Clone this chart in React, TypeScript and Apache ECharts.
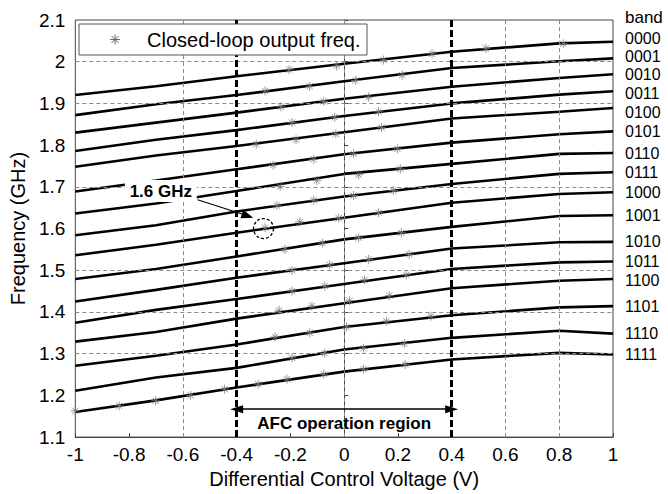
import React, { useEffect, useRef } from "react";
import * as echarts from "echarts";

// Differential control voltage sample points (V)
const xVoltage = [-1, -0.7, -0.4, 0, 0.4, 0.8, 1];

// Band codes (top to bottom)
const bandNames = [
  "0000", "0001", "0010", "0011", "0100", "0101", "0110", "0111",
  "1000", "1001", "1010", "1011", "1100", "1101", "1110", "1111",
];

// Open-loop VCO frequency (GHz) of each band at xVoltage
const band0000 = [1.920, 1.941, 1.965, 1.995, 2.024, 2.044, 2.048];
const band0001 = [1.872, 1.898, 1.920, 1.953, 1.985, 2.001, 2.008];
const band0010 = [1.830, 1.854, 1.878, 1.911, 1.940, 1.961, 1.970];
const band0011 = [1.786, 1.813, 1.836, 1.870, 1.900, 1.921, 1.929];
const band0100 = [1.748, 1.775, 1.798, 1.831, 1.864, 1.880, 1.889];
const band0101 = [1.689, 1.715, 1.742, 1.778, 1.806, 1.826, 1.833];
const band0110 = [1.636, 1.660, 1.690, 1.731, 1.755, 1.779, 1.781];
const band0111 = [1.584, 1.608, 1.641, 1.677, 1.707, 1.731, 1.735];
const band1000 = [1.536, 1.561, 1.590, 1.626, 1.662, 1.683, 1.687];
const band1001 = [1.479, 1.503, 1.533, 1.574, 1.604, 1.630, 1.632];
const band1010 = [1.425, 1.453, 1.482, 1.517, 1.552, 1.567, 1.568];
const band1011 = [1.374, 1.405, 1.431, 1.467, 1.503, 1.519, 1.521];
const band1100 = [1.329, 1.352, 1.384, 1.421, 1.457, 1.475, 1.479];
const band1101 = [1.271, 1.295, 1.322, 1.364, 1.392, 1.411, 1.414];
const band1110 = [1.211, 1.243, 1.266, 1.310, 1.338, 1.355, 1.348];
const band1111 = [1.160, 1.188, 1.219, 1.257, 1.286, 1.302, 1.298];

const bandCurves = [
  band0000, band0001, band0010, band0011, band0100, band0101, band0110, band0111,
  band1000, band1001, band1010, band1011, band1100, band1101, band1110, band1111,
];

// Closed-loop output frequency points [V, GHz]
const closedLoopPoints = [
  [-0.205, 1.981], [-0.028, 1.990], [0.146, 2.004], [0.327, 2.019], [0.527, 2.032], [0.815, 2.043],
  [-0.294, 1.930], [-0.128, 1.941], [0.043, 1.955], [0.216, 1.968],
  [-0.235, 1.892], [-0.076, 1.905], [0.091, 1.915],
  [-0.194, 1.854], [-0.035, 1.867], [0.128, 1.880],
  [-0.327, 1.802], [-0.179, 1.813], [-0.031, 1.827], [0.139, 1.842],
  [-0.264, 1.752], [-0.113, 1.766], [0.035, 1.779], [0.198, 1.791],
  [-0.238, 1.701], [-0.102, 1.715], [0.054, 1.729], [0.209, 1.743],
  [-0.250, 1.655], [-0.113, 1.668], [0.035, 1.679], [0.183, 1.691],
  [-0.294, 1.602], [-0.165, 1.616], [-0.020, 1.625], [0.128, 1.638],
  [-0.220, 1.550], [-0.080, 1.565], [0.054, 1.578], [0.213, 1.590],
  [-0.194, 1.500], [-0.054, 1.513], [0.091, 1.526], [0.242, 1.538],
  [-0.194, 1.450], [-0.072, 1.462], [0.076, 1.477], [0.231, 1.489],
  [-0.242, 1.404], [-0.120, 1.414], [0.020, 1.427], [0.168, 1.439],
  [-0.257, 1.340], [-0.128, 1.350], [0.009, 1.364], [0.157, 1.378], [0.323, 1.390],
  [-0.194, 1.290], [-0.072, 1.301], [0.072, 1.313], [0.224, 1.324],
  [-1.0, 1.163], [-0.837, 1.175], [-0.701, 1.187], [-0.571, 1.200], [-0.445, 1.215],
  [-0.320, 1.227], [-0.213, 1.239], [-0.076, 1.251], [0.072, 1.263], [0.227, 1.274],
];

// Axis ticks and reference lines
const xGridLines = [-0.6, 0, 0.6, 0.8];
const yGridLines = [2.0, 1.9, 1.7, 1.5, 1.4, 1.3];
const afcBounds = [-0.4, 0.4];
const afcArrowLevel = 1.167;
const highlightPoint = [-0.3, 1.6];
const highlightLabelPos = [-0.682, 1.69];
const highlightArrowStart = [-0.545, 1.669];
const highlightArrowEnd = [-0.338, 1.626];

// small vertical nudges (px) so the tightly packed band labels do not collide
const labelNudge = [-3.5, -1.5, 0.5, 2.5, 4.5, 0, 0, 0, 0, 0, 0, -0.5, 1, 0, 0, 0];

const FONT = "'Liberation Sans', Arial, Helvetica, sans-serif";
const STAR = "path://M0,-10 L0,10 M-10,0 L10,0 M-7,-7 L7,7 M-7,7 L7,-7";

export default function App() {
  const ref = useRef<HTMLDivElement>(null);

  useEffect(() => {
    const chart = echarts.init(ref.current!, null, { renderer: "svg" });

    const lineSeries = bandNames.map((name, i) => ({
      name,
      type: "line",
      data: xVoltage.map((x, j) => [x, bandCurves[i][j]]),
      showSymbol: false,
      symbol: "none",
      silent: true,
      z: 3,
      lineStyle: { color: "#000", width: 2.6 },
      endLabel: {
        show: true,
        formatter: () => name,
        color: "#000",
        fontSize: 16,
        lineHeight: 16,
        fontFamily: FONT,
        distance: 12,
        offset: [0, labelNudge[i]],
      },
    }));

    const option: any = {
      animation: false,
      backgroundColor: "#fff",
      textStyle: { fontFamily: FONT },
      grid: {
        left: 72,
        right: 55,
        top: 20,
        bottom: 54,
        show: true,
        borderColor: "#444",
        borderWidth: 1,
      },
      xAxis: {
        type: "value",
        min: -1,
        max: 1,
        interval: 0.2,
        name: "Differential Control Voltage (V)",
        nameLocation: "middle",
        nameGap: 30,
        nameTextStyle: { fontSize: 20, color: "#000", fontFamily: FONT },
        axisLine: { show: true, lineStyle: { color: "#444" } },
        axisTick: { show: true, inside: true, length: 4, lineStyle: { color: "#444" } },
        axisLabel: {
          fontSize: 19,
          color: "#000",
          fontFamily: FONT,
          margin: 8,
          formatter: (v: number) => String(+v.toFixed(1)),
        },
        splitLine: { show: false },
      },
      yAxis: {
        type: "value",
        min: 1.1,
        max: 2.1,
        interval: 0.1,
        name: "Frequency (GHz)",
        nameLocation: "middle",
        nameGap: 44,
        nameTextStyle: { fontSize: 20, color: "#000", fontFamily: FONT },
        axisLine: { show: true, lineStyle: { color: "#444" } },
        axisTick: { show: true, inside: true, length: 4, lineStyle: { color: "#444" } },
        axisLabel: {
          fontSize: 19,
          color: "#000",
          fontFamily: FONT,
          margin: 10,
          formatter: (v: number) => String(+v.toFixed(1)),
        },
        splitLine: { show: false },
      },
      series: [
        {
          name: "grid",
          type: "line",
          data: [],
          silent: true,
          z: 1,
          markLine: {
            silent: true,
            symbol: "none",
            label: { show: false },
            lineStyle: { color: "#8a8a8a", width: 1, type: [4, 3] },
            data: [
              ...xGridLines.map((v) => ({ xAxis: v })),
              ...yGridLines.map((v) => ({ yAxis: v })),
            ],
          },
        },
        ...lineSeries,
        {
          name: "AFC",
          type: "line",
          data: [],
          silent: true,
          z: 4,
          markLine: {
            silent: true,
            symbol: "none",
            label: { show: false },
            data: [
              ...afcBounds.map((v) => ({
                xAxis: v,
                lineStyle: { color: "#000", width: 3, type: [7, 3] },
              })),
              [
                {
                  coord: [afcBounds[0], afcArrowLevel],
                  symbol: "triangle",
                  lineStyle: { color: "#000", width: 1.5, type: "solid" },
                  label: {
                    show: true,
                    position: "insideMiddleBottom",
                    formatter: "AFC operation region",
                    color: "#000",
                    fontSize: 17,
                    fontWeight: "bold",
                    fontFamily: FONT,
                    distance: 6,
                  },
                },
                { coord: [afcBounds[1], afcArrowLevel], symbol: "triangle" },
              ],
            ],
            symbolSize: [8, 13],
          },
        },
        {
          name: "Closed-loop output freq.",
          type: "scatter",
          data: closedLoopPoints,
          symbol: STAR,
          symbolSize: 9,
          silent: true,
          z: 5,
          itemStyle: { color: "rgba(0,0,0,0)", borderColor: "#7a7a7a", borderWidth: 1 },
        },
      ],
    };

    chart.setOption(option);

    const px = (p: number[]) => chart.convertToPixel({ gridIndex: 0 }, p) as number[];
    const c = px(highlightPoint);
    const lbl = px(highlightLabelPos);
    const a0 = px(highlightArrowStart);
    const a1 = px(highlightArrowEnd);
    const dx = a1[0] - a0[0];
    const dy = a1[1] - a0[1];
    const len = Math.hypot(dx, dy);
    const ux = dx / len;
    const uy = dy / len;
    const headL = 12;
    const headW = 4.5;
    const bx = a1[0] - ux * headL;
    const by = a1[1] - uy * headL;

    const legX = 79;
    const legY = 24;
    const legW = 288;
    const legH = 31;
    const starR = 5;

    chart.setOption({
      graphic: [
        {
          type: "text",
          left: 625,
          top: 9,
          z: 10,
          style: { text: "band", fontSize: 17, fill: "#000", fontFamily: FONT },
        },
        {
          type: "rect",
          z: 20,
          shape: { x: legX, y: legY, width: legW, height: legH },
          style: { fill: "#fff", stroke: "#555", lineWidth: 1 },
        },
        {
          type: "group",
          z: 21,
          x: 115,
          y: legY + legH / 2,
          children: [
            { type: "line", z: 21, shape: { x1: 0, y1: -starR, x2: 0, y2: starR }, style: { stroke: "#666", lineWidth: 1 } },
            { type: "line", z: 21, shape: { x1: -starR, y1: 0, x2: starR, y2: 0 }, style: { stroke: "#666", lineWidth: 1 } },
            { type: "line", z: 21, shape: { x1: -3.5, y1: -3.5, x2: 3.5, y2: 3.5 }, style: { stroke: "#666", lineWidth: 1 } },
            { type: "line", z: 21, shape: { x1: -3.5, y1: 3.5, x2: 3.5, y2: -3.5 }, style: { stroke: "#666", lineWidth: 1 } },
          ],
        },
        {
          type: "text",
          z: 21,
          x: 147,
          y: legY + legH / 2,
          style: {
            text: "Closed-loop output freq.",
            fontSize: 20,
            fill: "#000",
            fontFamily: FONT,
            verticalAlign: "middle",
          },
        },
        {
          type: "rect",
          z: 20,
          shape: { x: lbl[0] - 36, y: lbl[1] - 11, width: 72, height: 22 },
          style: { fill: "#fff" },
        },
        {
          type: "text",
          z: 21,
          x: lbl[0],
          y: lbl[1],
          style: {
            text: "1.6 GHz",
            fontSize: 17,
            fontWeight: "bold",
            fill: "#000",
            fontFamily: FONT,
            align: "center",
            verticalAlign: "middle",
          },
        },
        {
          type: "line",
          z: 21,
          shape: { x1: a0[0], y1: a0[1], x2: bx, y2: by },
          style: { stroke: "#000", lineWidth: 1.2 },
        },
        {
          type: "polygon",
          z: 21,
          shape: {
            points: [
              [a1[0], a1[1]],
              [bx - uy * headW, by + ux * headW],
              [bx + uy * headW, by - ux * headW],
            ],
          },
          style: { fill: "#000" },
        },
        {
          type: "circle",
          z: 21,
          shape: { cx: c[0], cy: c[1], r: 10 },
          style: { fill: "none", stroke: "#000", lineWidth: 1.3, lineDash: [3, 2] },
        },
      ],
    });

    return () => chart.dispose();
  }, []);

  return (
    <div
      ref={ref}
      style={{ position: "absolute", left: 0, top: 0, width: 668, height: 494, background: "#fff" }}
    />
  );
}
